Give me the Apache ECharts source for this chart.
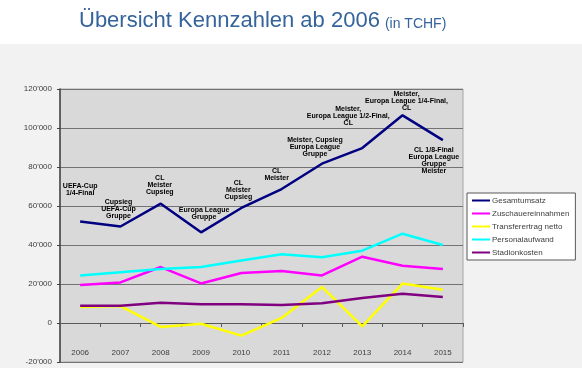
<!DOCTYPE html>
<html>
<head>
<meta charset="utf-8">
<script src="https://cdn.jsdelivr.net/npm/echarts@6/dist/echarts.min.js"></script>
<style>
html,body{margin:0;padding:0;}
body{background:linear-gradient(to bottom,#ffffff 0px,#ffffff 44px,#f2f2f2 44px,#f2f2f2 368px);}
#c{width:582px;height:368px;}
</style>
</head>
<body>
<div id="c"></div>
<script>
// ---- data ----
var years = ['2006','2007','2008','2009','2010','2011','2012','2013','2014','2015'];
var gesamtumsatz = [52000, 49500, 61200, 46500, 59000, 68700, 81700, 89700, 106500, 93800];
var zuschauereinnahmen = [19500, 20800, 28700, 20300, 25600, 26700, 24400, 34000, 29400, 27700];
var transferertrag = [8200, 8700, -2000, -400, -6500, 2600, 18500, -1700, 20200, 17100];
var personalaufwand = [24300, 26000, 27700, 28700, 32100, 35200, 33700, 37100, 45800, 40000];
var stadionkosten = [8900, 8900, 10400, 9600, 9600, 9200, 10100, 12800, 15000, 13300];
var annotations = [
  'UEFA-Cup\n1/4-Final',
  'Cupsieg\nUEFA-Cup\nGruppe',
  'CL\nMeister\nCupsieg',
  'Europa League\nGruppe',
  'CL\nMeister\nCupsieg',
  'CL\nMeister',
  'Meister, Cupsieg\nEuropa League\nGruppe',
  'Meister,\nEuropa League 1/2-Final,\nCL',
  'Meister,\nEuropa League 1/4-Final,\nCL',
  'CL 1/8-Final\nEuropa League\nGruppe\nMeister'
];
var seriesNames = ['Gesamtumsatz','Zuschauereinnahmen','Transferertrag netto','Personalaufwand','Stadionkosten'];

// ---- layout (label placement, not data) ----
var labelLayout = [
  ['top',[0,-25]], ['top',[-2,-7]], ['top',[-1,-8]], ['top',[3,-12]], ['top',[-3,-7]],
  ['top',[-5,-7]], ['top',[-7,-6]], ['top',[-14,-21]], ['top',[4,-4]], ['bottom',[-9,6]]
];

function fmt(v){
  var neg = v < 0; var s = String(Math.abs(v));
  if (s.length > 3) s = s.slice(0, s.length-3) + "'" + s.slice(s.length-3);
  return (neg ? '-' : '') + s;
}

var gesData = gesamtumsatz.map(function(v,i){
  return {value:v, label:{position:labelLayout[i][0], offset:labelLayout[i][1]}};
});

var chart = echarts.init(document.getElementById('c'), null, {renderer:'canvas'});
var colors = ['#000080','#ff00ff','#ffff00','#00ffff','#800080'];
chart.setOption({
  animation:false,
  backgroundColor:'transparent',
  color: colors,
  title:{
    text:'{a|Übersicht Kennzahlen ab 2006} {b|(in TCHF)}',
    left:74, top:5,
    textStyle:{
      fontWeight:'normal',
      rich:{
        a:{fontFamily:'Liberation Sans, Arial', fontSize:22, fontWeight:'normal', color:'#35649c'},
        b:{fontFamily:'Liberation Sans, Arial', fontSize:14, fontWeight:'normal', color:'#35649c', padding:[6,0,0,0]}
      }
    }
  },
  grid:{left:60, right:119, top:89, bottom:6, show:true, backgroundColor:'#d9d9d9', borderColor:'#a6a6a6', borderWidth:1, containLabel:false, outerBoundsMode:'none'},
  legend:{
    orient:'vertical', left:467, top:193,
    backgroundColor:'#ffffff', borderColor:'#595959', borderWidth:1,
    padding:[3,6,3,5], itemGap:4, itemWidth:18, itemHeight:2, icon:'rect',
    textStyle:{fontFamily:'Liberation Sans, Arial', fontSize:8, color:'#404040', lineHeight:9, padding:[0,0,0,-3]},
    data: seriesNames
  },
  xAxis:{
    type:'category', data:years, boundaryGap:true,
    axisLine:{show:true, onZero:true, lineStyle:{color:'#595959', width:1}},
    axisTick:{show:true, length:4, alignWithLabel:false, lineStyle:{color:'#595959'}},
    axisLabel:{margin:-13, fontFamily:'Liberation Sans, Arial', fontSize:8, color:'#404040'},
    splitLine:{show:false}
  },
  yAxis:{
    type:'value', min:-20000, max:120000, interval:20000,
    axisLine:{show:true, lineStyle:{color:'#404040', width:1.5}},
    axisTick:{show:true, length:3, lineStyle:{color:'#404040'}},
    axisLabel:{margin:8, fontFamily:'Liberation Sans, Arial', fontSize:8, color:'#404040', formatter:fmt},
    splitLine:{show:true, lineStyle:{color:'#737373', width:1}}
  },
  series:[
    {name:seriesNames[0], type:'line', data:gesData, symbol:'circle', symbolSize:0.1, showSymbol:true,
     lineStyle:{width:2.5, color:colors[0]}, itemStyle:{color:colors[0]},
     label:{show:true, distance:0, formatter:function(p){return annotations[p.dataIndex];},
            fontFamily:'Liberation Sans, Arial', fontSize:7, fontWeight:'bold', color:'#000', lineHeight:7, align:'center'}},
    {name:seriesNames[1], type:'line', data:zuschauereinnahmen, showSymbol:false, lineStyle:{width:2.5, color:colors[1]}, itemStyle:{color:colors[1]}},
    {name:seriesNames[2], type:'line', data:transferertrag, showSymbol:false, lineStyle:{width:2.5, color:colors[2]}, itemStyle:{color:colors[2]}},
    {name:seriesNames[3], type:'line', data:personalaufwand, showSymbol:false, lineStyle:{width:2.5, color:colors[3]}, itemStyle:{color:colors[3]}},
    {name:seriesNames[4], type:'line', data:stadionkosten, showSymbol:false, lineStyle:{width:2.5, color:colors[4]}, itemStyle:{color:colors[4]}}
  ]
});
</script>
</body>
</html>
